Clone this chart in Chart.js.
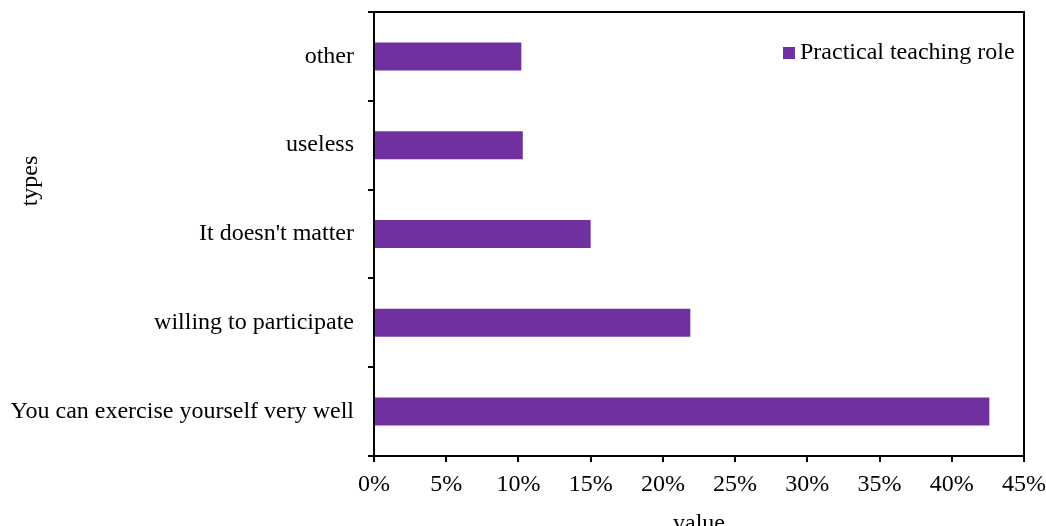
<!DOCTYPE html>
<html><head><meta charset="utf-8">
<script src="https://cdn.jsdelivr.net/npm/chart.js@4/dist/chart.umd.min.js"></script>
<style>html,body{margin:0;padding:0;background:#fff}#wrap{width:1046px;height:526px}</style>
</head><body><div id="wrap"><canvas id="c" width="1046" height="526"></canvas></div>
<script>
const categories = ["other", "useless", "It doesn't matter", "willing to participate", "You can exercise yourself very well"];
const seriesName = "Practical teaching role";
const values = [10.2, 10.3, 15.0, 21.9, 42.6];
const xTicks = [0, 5, 10, 15, 20, 25, 30, 35, 40, 45];
const color = '#7030A0';
const FONT = 'Liberation Serif, Times New Roman, serif';

const extras = {
  id: 'extras',
  afterDraw(chart) {
    const ctx = chart.ctx, a = chart.chartArea;
    ctx.save();
    ctx.strokeStyle = '#000';
    ctx.lineWidth = 2;
    ctx.beginPath();
    ctx.moveTo(a.left, a.top); ctx.lineTo(a.right, a.top); ctx.lineTo(a.right, a.bottom);
    ctx.stroke();
    // legend
    ctx.fillStyle = color;
    ctx.fillRect(783, 47, 12, 12);
    ctx.fillStyle = '#000';
    ctx.font = '24px ' + FONT;
    ctx.textBaseline = 'alphabetic';
    ctx.textAlign = 'left';
    ctx.fillText(seriesName, 800, 59);
    // axis titles
    ctx.textAlign = 'center';
    ctx.fillText('value', (a.left + a.right) / 2, 530);
    ctx.translate(37, 181);
    ctx.rotate(-Math.PI / 2);
    ctx.fillText('types', 0, 0);
    ctx.restore();
  }
};

new Chart(document.getElementById('c'), {
  type: 'bar',
  data: {
    labels: categories,
    datasets: [{
      label: seriesName,
      data: values,
      backgroundColor: color,
      borderWidth: 0,
      categoryPercentage: 1,
      barPercentage: 0.315
    }]
  },
  options: {
    indexAxis: 'y',
    responsive: false,
    animation: false,
    layout: { padding: { left: 0, right: 22, top: 12, bottom: 0 } },
    plugins: { legend: { display: false }, tooltip: { enabled: false } },
    scales: {
      x: {
        min: 0, max: 45,
        afterBuildTicks(s) { s.ticks = xTicks.map(v => ({ value: v })); },
        afterFit(s) { s.height = 70; s.paddingLeft = 0; s.paddingRight = 0; },
        ticks: { color: '#000', font: { family: FONT, size: 24 }, padding: 8, callback: v => v + '%', maxRotation: 0, autoSkip: false },
        grid: { display: true, drawOnChartArea: false, drawTicks: true, tickLength: 6, color: '#000', lineWidth: 2 },
        border: { display: true, color: '#000', width: 2 }
      },
      y: {
        afterFit(s) { s.width = 374; s.paddingTop = 0; s.paddingBottom = 0; },
        ticks: { color: '#000', font: { family: FONT, size: 24 }, padding: 14 },
        grid: { display: true, offset: true, drawOnChartArea: false, drawTicks: true, tickLength: 6, color: '#000', lineWidth: 2 },
        border: { display: true, color: '#000', width: 2 }
      }
    }
  },
  plugins: [extras]
});
</script></body></html>
